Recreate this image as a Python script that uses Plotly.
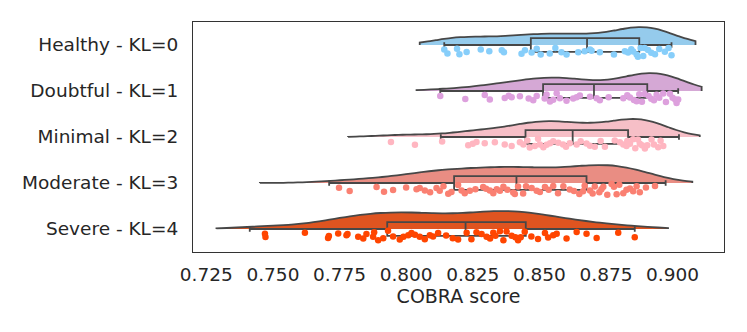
import numpy as np
import plotly.graph_objects as go

# categories, top to bottom
categories = ["Healthy - KL=0", "Doubtful - KL=1", "Minimal - KL=2",
              "Moderate - KL=3", "Severe - KL=4"]
positions = [4, 3, 2, 1, 0]

point_colors = ["#87CEFA", "#DDA0DD", "#FFB6C1", "#FA8072", "#FF4500"]
fill_colors = ["#95CBEC", "#D5A8D5", "#F6BFC7", "#E98D83", "#DF5420"]

# COBRA scores (one list per KL grade)
healthy = [0.8143, 0.8155, 0.8191, 0.8200, 0.8227, 0.8280, 0.8312, 0.8359, 0.8367, 0.8433,
           0.8446, 0.8471, 0.8490, 0.8505, 0.8539, 0.8560, 0.8583, 0.8602, 0.8646, 0.8670,
           0.8690, 0.8696, 0.8727, 0.8780, 0.8821, 0.8833, 0.8845, 0.8852, 0.8865, 0.8870,
           0.8880, 0.8890, 0.8895, 0.8908, 0.8920, 0.8934, 0.8950, 0.8971, 0.8985, 0.8996]
doubtful = [0.8128, 0.8222, 0.8295, 0.8314, 0.8370, 0.8385, 0.8396, 0.8427, 0.8460, 0.8477, 0.8490,
            0.8520, 0.8527, 0.8540, 0.8552, 0.8565, 0.8577, 0.8602, 0.8627, 0.8640, 0.8652, 0.8690,
            0.8715, 0.8727, 0.8760, 0.8815, 0.8830, 0.8840, 0.8855, 0.8865, 0.8875, 0.8885, 0.8895,
            0.8910, 0.8920, 0.8930, 0.8940, 0.8950, 0.8965, 0.8975, 0.8990, 0.9000, 0.9010, 0.9015,
            0.9021]
minimal = [0.7943, 0.8033, 0.8135, 0.8233, 0.8250, 0.8264, 0.8295, 0.8333, 0.8370, 0.8396, 0.8427,
           0.8440, 0.8455, 0.8464, 0.8483, 0.8495, 0.8502, 0.8515, 0.8527, 0.8540, 0.8552, 0.8571,
           0.8589, 0.8600, 0.8614, 0.8640, 0.8655, 0.8677, 0.8690, 0.8708, 0.8730, 0.8746, 0.8783,
           0.8802, 0.8815, 0.8827, 0.8830, 0.8840, 0.8852, 0.8860, 0.8870, 0.8877, 0.8885, 0.8896,
           0.8905, 0.8921, 0.8930, 0.8946, 0.8955, 0.8965]
moderate = [0.7748, 0.7788, 0.7889, 0.7917, 0.7951, 0.8000, 0.8039, 0.8051, 0.8070, 0.8090, 0.8114,
            0.8126, 0.8140, 0.8158, 0.8170, 0.8195, 0.8208, 0.8220, 0.8239, 0.8260, 0.8289, 0.8300,
            0.8314, 0.8327, 0.8340, 0.8352, 0.8365, 0.8380, 0.8402, 0.8408, 0.8420, 0.8439,
            0.8450, 0.8471, 0.8490, 0.8502, 0.8521, 0.8535, 0.8552, 0.8570, 0.8590, 0.8614, 0.8630,
            0.8650, 0.8664, 0.8670, 0.8690, 0.8700, 0.8708, 0.8725, 0.8733, 0.8740, 0.8755, 0.8771,
            0.8780, 0.8790, 0.8800, 0.8815, 0.8827, 0.8840, 0.8852, 0.8865, 0.8877, 0.8900, 0.8934]
severe = [0.7470, 0.7472, 0.7620, 0.7707, 0.7710, 0.7745, 0.7776, 0.7780, 0.7820, 0.7839, 0.7851,
          0.7876, 0.7880, 0.7895, 0.7914, 0.7932, 0.7951, 0.7976, 0.7990, 0.8008, 0.8020, 0.8033,
          0.8051, 0.8070, 0.8089, 0.8101, 0.8120, 0.8150, 0.8175, 0.8195, 0.8227, 0.8245, 0.8264,
          0.8283, 0.8302, 0.8315, 0.8327, 0.8335, 0.8352, 0.8365, 0.8377, 0.8396, 0.8410, 0.8420,
          0.8430, 0.8445, 0.8470, 0.8495, 0.8521, 0.8533, 0.8552, 0.8565, 0.8602, 0.8640, 0.8677,
          0.8715, 0.8796, 0.8858]
scores = [healthy, doubtful, minimal, moderate, severe]

# box statistics as drawn in the reference
q1 = [0.8468, 0.8514, 0.8448, 0.8180, 0.7929]
median = [0.8679, 0.8705, 0.8625, 0.8414, 0.8223]
q3 = [0.8875, 0.8905, 0.8833, 0.8677, 0.8449]
lower_whisker = [0.8143, 0.8128, 0.8130, 0.7711, 0.7413]
upper_whisker = [0.8996, 0.9021, 0.9024, 0.8974, 0.8858]

# extent of each density curve
kde_lo = [0.8051, 0.8039, 0.7782, 0.7451, 0.7288]
kde_hi = [0.9086, 0.9109, 0.9102, 0.9074, 0.8983]

x_ticks = [0.725, 0.750, 0.775, 0.800, 0.825, 0.850, 0.875, 0.900]

EDGE = "#474747"
FONT = dict(family="DejaVu Sans", size=18.5, color="#262626")

fig = go.Figure()

# half violins (cloud)
for i, vals in enumerate(scores):
    fig.add_trace(go.Violin(
        x=vals, y0=positions[i], orientation="h", side="positive",
        width=0.78, bandwidth=0.35 * float(np.std(vals, ddof=1)),
        spanmode="manual", span=[kde_lo[i], kde_hi[i]],
        fillcolor=fill_colors[i], line=dict(color=EDGE, width=1.8),
        opacity=1, points=False, box_visible=False, meanline_visible=False,
        hoverinfo="skip", showlegend=False,
    ))

# boxes
for i in range(len(categories)):
    fig.add_trace(go.Box(
        y=[positions[i]], orientation="h",
        q1=[q1[i]], median=[median[i]], q3=[q3[i]],
        lowerfence=[lower_whisker[i]], upperfence=[upper_whisker[i]],
        width=0.3, whiskerwidth=0.4, boxpoints=False,
        fillcolor="rgba(0,0,0,0)", line=dict(color=EDGE, width=1.8),
        hoverinfo="skip", showlegend=False,
    ))

# rain (jittered points below)
for i, vals in enumerate(scores):
    fig.add_trace(go.Box(
        x=vals, y0=positions[i], orientation="h",
        width=0.3, boxpoints="all", jitter=0.85, pointpos=-0.9,
        fillcolor="rgba(0,0,0,0)", line=dict(color="rgba(0,0,0,0)", width=0),
        marker=dict(color=point_colors[i], size=6.5, opacity=1),
        hoverinfo="skip", showlegend=False,
    ))

# page body keeps an 8px margin, so the figure is 16px smaller than the window
fig.update_layout(
    width=731, height=316,
    margin=dict(l=185, r=15, t=14, b=72),
    paper_bgcolor="white", plot_bgcolor="white",
    font=FONT,
    boxmode="overlay", violinmode="overlay",
)
fig.update_xaxes(
    range=[0.7200, 0.9193], tickvals=x_ticks, tickformat=".3f",
    showgrid=False, zeroline=False,
    showline=True, linecolor="#333333", linewidth=1.25, mirror=True,
    ticks="", ticklabelstandoff=6,
    title=dict(text="COBRA score", standoff=4, font=dict(size=19)),
)
fig.update_yaxes(
    range=[-0.5, 4.5], tickvals=positions, ticktext=categories,
    showgrid=False, zeroline=False,
    showline=True, linecolor="#333333", linewidth=1.25, mirror=True,
    ticks="", ticklabelstandoff=10,
)

fig.write_html("out.html")
